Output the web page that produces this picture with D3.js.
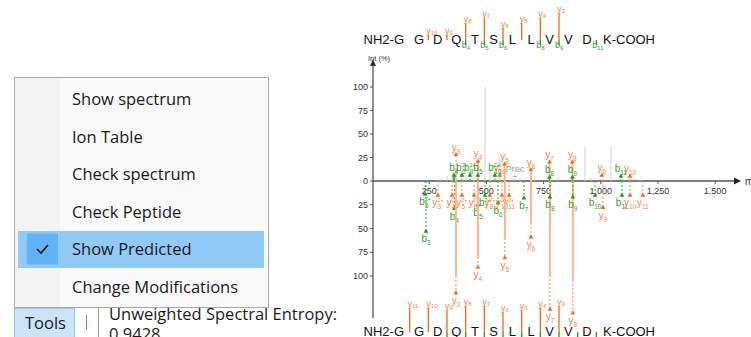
<!DOCTYPE html>
<html><head><meta charset="utf-8">
<script src="https://cdn.jsdelivr.net/npm/d3@7"></script>
<style>body{margin:0;background:#fff}svg{display:block}</style>
</head><body>
<svg id="c" width="751" height="337"></svg>
<script>
// ---------------- data ----------------
const menuItems = ["Show spectrum","Ion Table","Check spectrum","Check Peptide","Show Predicted","Change Modifications"];
const checkedItem = "Show Predicted";
const toolsLabel = "Tools";
const entropyLabel = "Unweighted Spectral Entropy:";
const entropyValue = "0.9428";

const nTerm = "NH2-G", cTerm = "K-COOH";
const residues = ["G","D","Q","T","S","L","L","V","V","D"];
// [y-ion number, relative bar height]
const topSeqY = [[10,20],[9,20],[8,63],[7,81],[6,44],[5,63],[4,81],[3,100]];
const topSeqB = [4,5,6,8,9,11];
const botSeqY = [[11,92],[10,92],[9,85],[8,100],[7,100],[6,77],[5,85],[4,92],[3,100]];
const botSeqB = [3,4,5,6,7,8,9,10,11];

const xTicks = [250,500,750,1000,1250,1500];
const yTicksTop = [0,25,50,75,100];
const yTicksBottom = [25,50,75,100];

// unannotated experimental peaks [m/z, intensity %]
const unmatchedPeaks = [[302,3],[328,5],[350,4],[393,6],[411,8],[428,10],[446,4],[494,100],[516,12],[538,5],[556,25],[612,4],[647,3],[712,5],[813,4],[931,37],[957,3],[1045,37],[1171,2]];

// experimental annotated ions: ion, number, charge, m/z, peak height, marker height
const topIons = [
  ["y",3,1,367,12,28],["y",4,1,463,20,21],["y",5,1,580,15,18],["y",6,1,695,12,12],
  ["y",7,1,776,19,20],["y",8,1,876,19,20],["y",9,1,1005,0,6],["y",10,1,1128,0,5],
  ["y",10,2,559,0,6],
  ["b",4,1,358,5,6],["b",6,2,393,0,6],["b",8,2,428,0,6],["b",5,1,463,0,6],
  ["b",10,2,537,0,6],["b",8,1,776,0,4],["b",9,1,876,0,4],["b",11,1,1088,0,5]
];
const precursor = [625, 5];

// predicted ions (mirrored): ion, number, charge, m/z, solid height, marker height
const bottomIons = [
  ["b",3,1,236,0,53],["b",5,2,232,0,14],["b",4,1,360,0,29],["b",7,2,494,0,15],
  ["b",5,1,463,0,25],["b",6,1,551,0,23],["b",7,1,664,0,18],
  ["y",3,2,288,0,15],["y",4,2,350,0,15],["y",5,2,393,0,15],["y",6,2,446,0,15],
  ["y",8,2,515,0,15],["y",10,2,568,0,15],["y",11,2,599,0,15],
  ["y",3,1,367,100,118],["y",4,1,463,80,91],["y",5,1,581,60,81],["y",6,1,695,44,59],
  ["y",7,1,778,99,135],["y",8,1,878,104,139],
  ["b",8,1,778,0,17],["b",9,1,878,0,17],["b",10,1,975,0,15],["y",9,1,1010,0,28],
  ["b",11,1,1093,0,15],["y",10,1,1128,0,15],["y",11,1,1184,0,15]
];

// ---------------- drawing ----------------
const svg = d3.select("#c");
svg.append("rect").attr("width",751).attr("height",337).attr("fill","#fff");

const COL = {
  yText:"#F5843F", yMark:"#F26A1A", ySolid:"#FDB68C", yDot:"#F79556",
  bText:"#2FA52F", bMark:"#1F9A1F", bDot:"#3DB03D"
};

// ---- left panel ----
const L = svg.append("g").style("font-family","'Open Sans','Noto Sans',sans-serif");
L.append("text").attr("x",109).attr("y",320).attr("font-size",16.5).attr("fill","#1a1a1a").text(entropyLabel);
L.append("text").attr("x",109).attr("y",340).attr("font-size",16.5).attr("fill","#1a1a1a").text(entropyValue);
L.append("rect").attr("x",14.5).attr("y",308.5).attr("width",60).attr("height",30)
  .attr("fill","#CCE4F7").attr("stroke","#9DC6EA");
L.append("text").attr("x",25).attr("y",329).attr("font-size",16.5).attr("fill","#1a1a1a").text(toolsLabel);
L.append("line").attr("x1",86.5).attr("x2",86.5).attr("y1",315).attr("y2",330).attr("stroke","#b07080").attr("stroke-width",1);
L.append("line").attr("x1",98.5).attr("x2",98.5).attr("y1",306).attr("y2",337).attr("stroke","#a0a0a0");

// menu
const M = L.append("g");
M.append("rect").attr("x",14.5).attr("y",77.5).attr("width",254).attr("height",230)
  .attr("fill","#F9F9F9").attr("stroke","#A8A8A8");
M.append("rect").attr("x",15).attr("y",78).attr("width",45).attr("height",229).attr("fill","#F4F4F4");
const itemY = d3.scaleLinear().domain([0,1]).range([105,142.5]);
menuItems.forEach((t,i)=>{
  const by = itemY(i);
  if (t === checkedItem) {
    M.append("rect").attr("x",18).attr("y",by-24).attr("width",246).attr("height",37).attr("fill","#91C9F7");
    M.append("rect").attr("x",27).attr("y",by-21.5).attr("width",31).attr("height",31).attr("fill","#62B3F6");
    M.append("path").attr("d",`M37,${by-6} L41,${by-2} L48,${by-10}`)
      .attr("fill","none").attr("stroke","#1a1a1a").attr("stroke-width",1.6);
  }
  M.append("text").attr("x",72).attr("y",by).attr("font-size",16.5).attr("fill","#1a1a1a").text(t);
});

// ---- spectrum ----
const S = svg.append("g").style("font-family","'Liberation Sans',Arial,sans-serif");
const x = d3.scaleLinear().domain([0,1600]).range([372,738]);
const yT = d3.scaleLinear().domain([0,100]).range([181,87]);
const yB = d3.scaleLinear().domain([0,100]).range([181,276]);

// sequences
const seqX = d3.scalePoint().domain(d3.range(residues.length)).range([419,587]);
const step = seqX.step();
const cutX = k => seqX(0) + (k - 1.5) * step;   // cleavage after residue k

function seqBlock(baseY, midY, yList, bList, hMax, top) {
  const g = S.append("g");
  g.append("text").attr("x",404).attr("y",baseY).attr("text-anchor","end").attr("font-size",13).attr("fill","#111").text(nTerm);
  g.selectAll(".res").data(residues).join("text").attr("x",(d,i)=>seqX(i)).attr("y",baseY)
    .attr("text-anchor","middle").attr("font-size",13).attr("fill","#111").text(d=>d);
  g.append("text").attr("x",603).attr("y",baseY).attr("font-size",13).attr("fill","#111").text(cTerm);
  const h = d3.scaleLinear().domain([0,100]).range([0,hMax]);
  yList.forEach(([n,v])=>{
    const k = 12 - n, cx = cutX(k);
    g.append("line").attr("x1",cx).attr("x2",cx).attr("y1",midY).attr("y2",midY-h(v))
      .attr("stroke",COL.yMark).attr("stroke-width",1.3);
    const t = g.append("text").attr("x",cx-2).attr("y",midY-h(v)-1).attr("font-size",9).attr("fill",COL.yText);
    t.append("tspan").text("y");
    t.append("tspan").attr("font-size",6).attr("dy",1).text(n);
  });
  bList.forEach(n=>{
    const cx = cutX(n);
    g.append("line").attr("x1",cx).attr("x2",cx).attr("y1",midY).attr("y2",midY+5)
      .attr("stroke",COL.bMark).attr("stroke-width",1.3);
    if (top) {
      const t = g.append("text").attr("x",cx-4).attr("y",midY+8).attr("font-size",9).attr("fill",COL.bText);
      t.append("tspan").text("b");
      t.append("tspan").attr("font-size",6).attr("dy",1.5).text(n);
    }
  });
}
seqBlock(44, 40, topSeqY, topSeqB, 27, true);
seqBlock(336, 332, botSeqY, botSeqB, 26, false);

// axes
S.append("line").attr("x1",373).attr("x2",373).attr("y1",62).attr("y2",318).attr("stroke","#555").attr("stroke-width",1.3);
S.append("path").attr("d","M370,66 L373,59 L376,66 Z").attr("fill","#333");
S.append("text").attr("x",368).attr("y",61).attr("font-size",7.5).attr("fill","#333").text("Int (%)");
S.append("line").attr("x1",373).attr("x2",736).attr("y1",181).attr("y2",181).attr("stroke","#555").attr("stroke-width",1.5);
S.append("path").attr("d","M734,177.5 L741,181 L734,184.5 Z").attr("fill","#222");
S.append("text").attr("x",745).attr("y",185).attr("font-size",10).attr("fill","#333").text("m/z");

const fmt = d3.format(",");
S.selectAll(".xt").data(xTicks).join("line").attr("x1",d=>x(d)).attr("x2",d=>x(d)).attr("y1",181).attr("y2",184).attr("stroke","#555");
S.selectAll(".xl").data(xTicks).join("text").attr("x",d=>x(d)).attr("y",194).attr("text-anchor","middle")
  .attr("font-size",9).attr("fill","#333").text(d=>fmt(d));
const yTickData = yTicksTop.map(v=>[v,yT(v)]).concat(yTicksBottom.map(v=>[v,yB(v)]));
S.selectAll(".yt").data(yTickData).join("line").attr("x1",370).attr("x2",373).attr("y1",d=>d[1]).attr("y2",d=>d[1]).attr("stroke","#555");
S.selectAll(".yl").data(yTickData).join("text").attr("x",368).attr("y",d=>d[1]+3).attr("text-anchor","end")
  .attr("font-size",9).attr("fill","#333").text(d=>d[0]);

// unmatched peaks
S.selectAll(".gp").data(unmatchedPeaks).join("line").attr("x1",d=>x(d[0])).attr("x2",d=>x(d[0]))
  .attr("y1",yT(0)).attr("y2",d=>yT(d[1])).attr("stroke","#cfcfcf").attr("stroke-width",1);

const tri = d3.symbol(d3.symbolTriangle).size(10);
function label(g, d, px, py, color) {
  const t = g.append("text").attr("x",px).attr("y",py).attr("text-anchor","middle")
    .attr("font-size",10).attr("fill",color);
  t.append("tspan").text(d[0]);
  if (d[2] > 1) {
    t.append("tspan").attr("font-size",5.5).attr("dy",-4).text(d[2]+"+");
    t.append("tspan").attr("font-size",6.5).attr("dx",-6).attr("dy",7).text(d[1]);
  } else {
    t.append("tspan").attr("font-size",6.5).attr("dy",3).text(d[1]);
  }
}
function drawIons(list, ys, dir) {
  const g = S.append("g");
  list.forEach(d=>{
    const isY = d[0]==="y";
    const cx = x(d[3]);
    if (d[4] > 0) g.append("line").attr("x1",cx).attr("x2",cx).attr("y1",ys(0)).attr("y2",ys(d[4]))
      .attr("stroke",isY?COL.ySolid:COL.bDot).attr("stroke-width",2);
    g.append("line").attr("x1",cx).attr("x2",cx).attr("y1",ys(d[4])).attr("y2",ys(d[5]))
      .attr("stroke",isY?COL.yDot:COL.bDot).attr("stroke-width",1.1).attr("stroke-dasharray","2,2");
    g.append("path").attr("d",tri).attr("transform",`translate(${cx},${ys(d[5])})`)
      .attr("fill",isY?COL.yMark:COL.bMark);
    const ly = dir>0 ? ys(d[5])-4 : ys(d[5])+11;
    label(g, d, cx, ly, isY?COL.yText:COL.bText);
  });
}
drawIons(topIons, yT, 1);
drawIons(bottomIons, yB, -1);

// precursor
S.append("line").attr("x1",x(precursor[0])-2).attr("x2",x(precursor[0])+2).attr("y1",yT(precursor[1])).attr("y2",yT(precursor[1])).attr("stroke","#999");
S.append("line").attr("x1",x(precursor[0])).attr("x2",x(precursor[0])).attr("y1",yT(precursor[1])).attr("y2",yT(0)).attr("stroke","#999").attr("stroke-dasharray","1,1");
S.append("text").attr("x",x(precursor[0])).attr("y",yT(precursor[1])-4).attr("text-anchor","middle")
  .attr("font-size",9).attr("fill","#999").text("Prec");
</script>
</body></html>
